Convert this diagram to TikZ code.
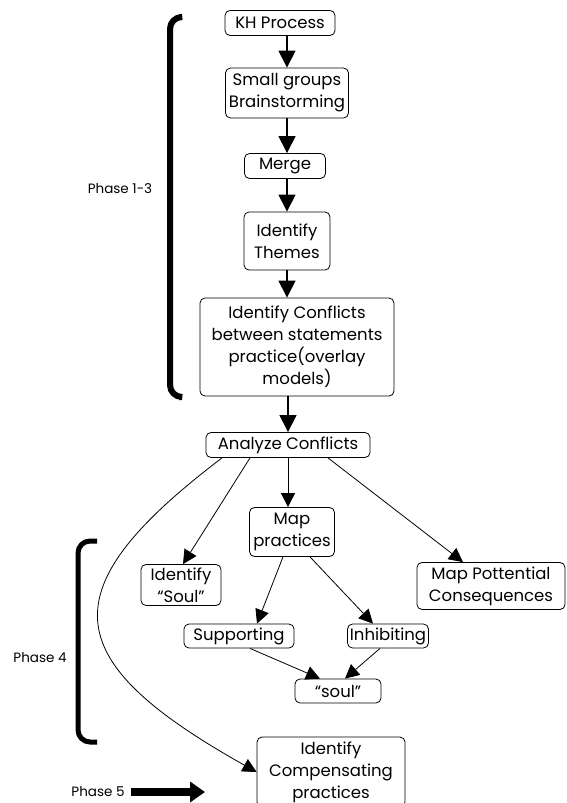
\documentclass[tikz,border=0pt]{standalone}
\usepackage{fontspec}
\setmainfont{Poppins}
\usetikzlibrary{arrows.meta}
\begin{document}
\begin{tikzpicture}[x=1pt, y=-1pt,
    box/.style={draw, line width=0.8pt, rounded corners=5pt, align=center, inner sep=1pt, font=\fontsize{16.5}{22}\selectfont},
    big/.style={line width=1.1pt, -{Triangle[length=17pt, width=17pt]}},
    small/.style={line width=0.8pt, -{Triangle[length=14pt, width=14pt]}},
    phase/.style={font=\fontsize{13.5}{16}\selectfont},
    brace/.style={line width=6pt, rounded corners=12pt}]
    \useasboundingbox (0,0) rectangle (566,803);

    \node[box, minimum width=110pt, minimum height=25pt] (kh) at (280,23) {KH Process};
    \node[box, minimum width=123pt, minimum height=50pt] (brain) at (287,93) {Small groups\\Brainstorming};
    \node[box, minimum width=81pt, minimum height=25pt] (merge) at (285,166) {Merge};
    \node[box, minimum width=86pt, minimum height=58pt] (themes) at (287,241) {Identify\\Themes};
    \node[box, minimum width=194pt, minimum height=98pt] (confl) at (297,347) {Identify Conflicts\\between statements\\practice(overlay\\models)};
    \node[box, minimum width=164pt, minimum height=25pt] (analyze) at (288,445) {Analyze Conflicts};
    \node[box, minimum width=85pt, minimum height=49pt] (mappr) at (292,532) {Map\\practices};
    \node[box, minimum width=80pt, minimum height=41pt] (soulid) at (181,585) {Identify\\``Soul''};
    \node[box, minimum width=148pt, minimum height=47pt] (mappot) at (491,586) {Map Pottential\\Consequences};
    \node[box, minimum width=110pt, minimum height=24pt] (supp) at (239,636) {Supporting};
    \node[box, minimum width=81pt, minimum height=24pt] (inhib) at (388,636) {Inhibiting};
    \node[box, minimum width=86pt, minimum height=24pt] (soul) at (338,691) {``soul''};
    \node[box, minimum width=148pt, minimum height=70pt] (comp) at (331,772) {Identify\\Compensating\\practices};

    \draw[big] (kh.south -| brain.north) -- (brain.north);
    \draw[big] (brain.south) -- (brain.south |- merge.north);
    \draw[big] (merge.south -| themes.north) -- (themes.north);
    \draw[big] (themes.south) -- (themes.south |- confl.north);
    \draw[big] (confl.south -| analyze.north) -- (analyze.north);

    \draw[small] (analyze.south) -- (analyze.south |- mappr.north);
    \draw[small] ([xshift=-38pt]analyze.south) -- ([xshift=2pt]soulid.north);
    \draw[small] ([xshift=40pt]analyze.south) -- ([xshift=-28pt]mappot.north);
    \draw[small] ([xshift=-66pt]analyze.south) .. controls (48,590) and (57,660) .. (comp.west);
    \draw[small] ([xshift=-9pt]mappr.south) -- ([xshift=18pt]supp.north);
    \draw[small] ([xshift=18pt]mappr.south) -- ([xshift=-15pt]inhib.north);
    \draw[small] ([xshift=11pt]supp.south) -- ([xshift=-18pt]soul.north);
    \draw[small] ([xshift=-8pt]inhib.south) -- ([xshift=7pt]soul.north);

    \draw[brace] (179,17) -- (170,17) -- (170,397) -- (179,397);
    \draw[brace, line width=5pt] (97,541) -- (78,541) -- (78,742) -- (97,742);

    \node[phase] (ph13) at (120,189) {Phase 1-3};
    \node[phase] (ph4) at (40,658) {Phase 4};
    \node[phase] (ph5) at (98,792) {Phase 5};
    \coordinate (p5tip) at (205,792);
    \draw[line width=8pt, -{Triangle[length=15pt, width=20pt]}, shorten <=3pt] (ph5.east) -- (p5tip);
\end{tikzpicture}
\end{document}
